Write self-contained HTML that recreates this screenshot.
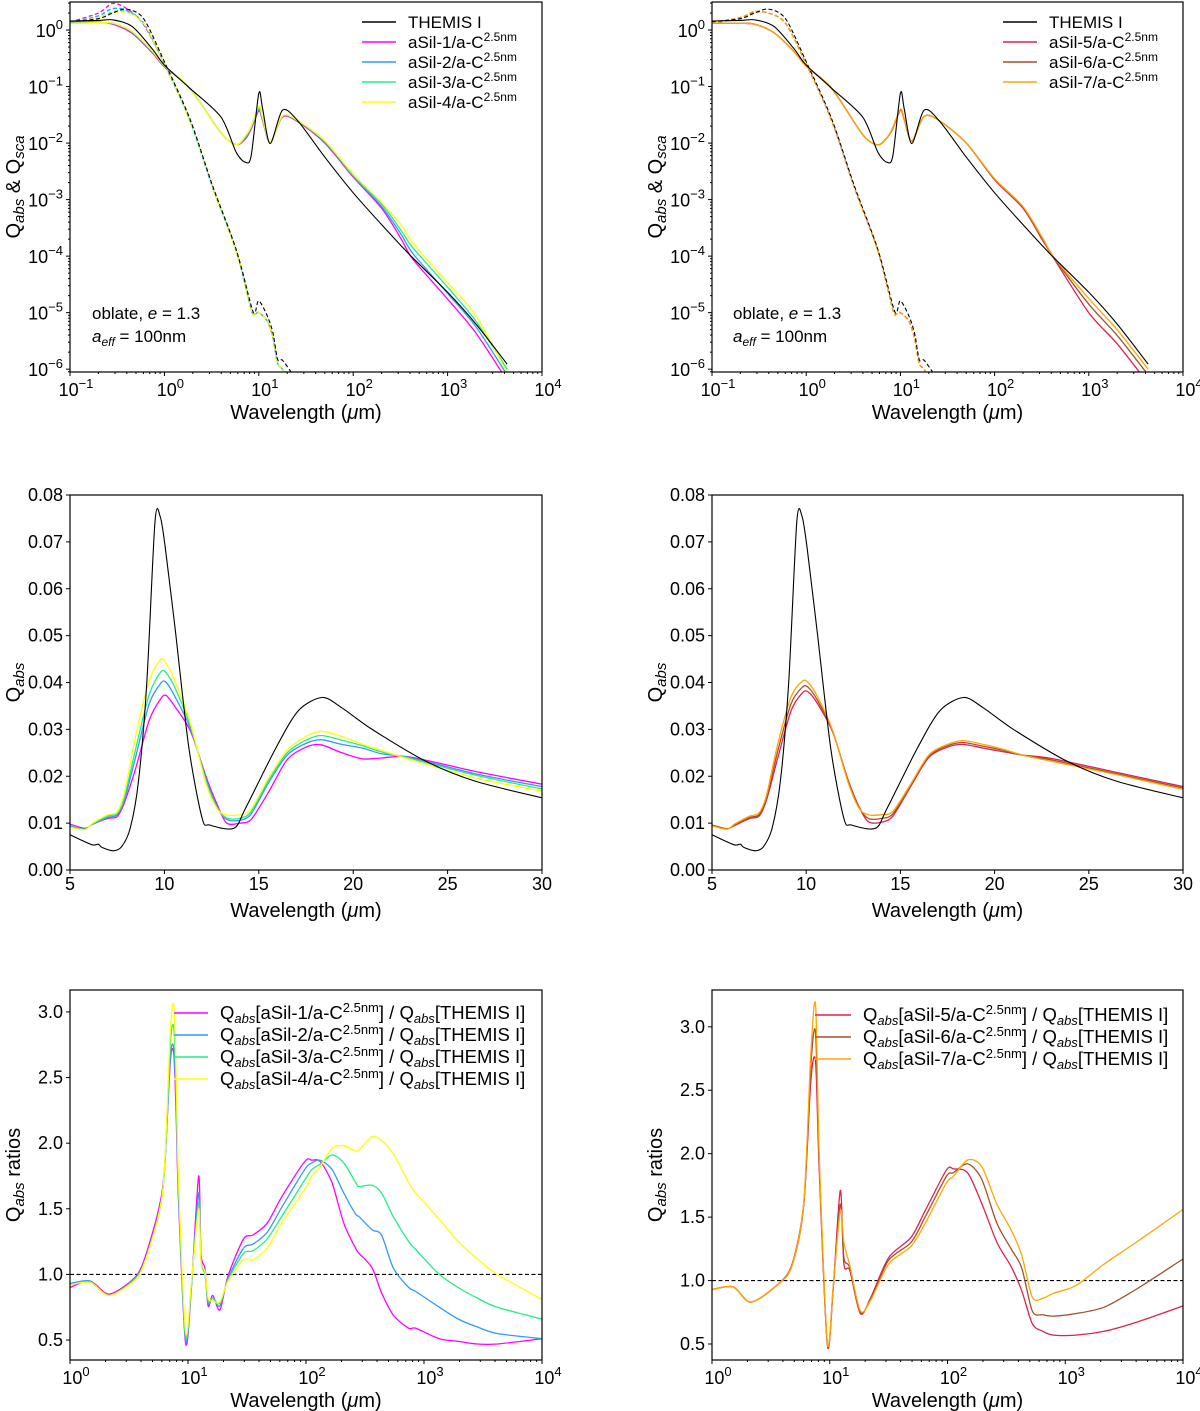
<!DOCTYPE html>
<html><head><meta charset="utf-8"><style>
html,body{margin:0;padding:0;background:#fff;}
svg{display:block;font-family:"Liberation Sans","DejaVu Sans",sans-serif;}
</style></head><body>
<svg id="fig" width="1200" height="1411" viewBox="0 0 1200 1411" xmlns="http://www.w3.org/2000/svg"></svg>
<script>
// ---------- Panel A/B (log-log, values are log10) ----------
const logWlAbs = [-1,-0.7,-0.54,-0.34,-0.13,0,0.27,0.6,0.76,0.86,0.92,1.0,1.04,1.12,1.25,1.41,1.7,2,2.3,2.51,2.63,3,3.3,3.63];
const themisAbs = [0.16,0.17,0.18,0.06,-0.33,-0.62,-1.03,-1.54,-2.16,-2.34,-2.22,-1.12,-1.39,-2.01,-1.42,-1.6,-2.25,-2.88,-3.44,-3.82,-4.03,-4.64,-5.2,-5.91];
const sil1Abs = [0.14,0.14,0.1,-0.06,-0.4,-0.65,-1.03,-1.82,-2.03,-1.92,-1.75,-1.43,-1.6,-1.99,-1.54,-1.62,-2.0,-2.6,-3.15,-3.7,-4.05,-4.76,-5.36,-6.2];
const sil2Abs = [0.13,0.13,0.11,-0.04,-0.38,-0.64,-1.03,-1.82,-2.03,-1.9,-1.73,-1.41,-1.58,-1.99,-1.53,-1.61,-1.98,-2.58,-3.12,-3.62,-3.95,-4.66,-5.25,-6.1];
const sil3Abs = [0.12,0.13,0.12,-0.03,-0.37,-0.63,-1.03,-1.82,-2.03,-1.88,-1.71,-1.38,-1.56,-1.99,-1.52,-1.6,-1.97,-2.57,-3.08,-3.55,-3.85,-4.55,-5.15,-6.0];
const sil4Abs = [0.12,0.13,0.12,-0.03,-0.37,-0.63,-1.03,-1.82,-2.03,-1.87,-1.7,-1.35,-1.55,-1.99,-1.52,-1.6,-1.96,-2.55,-3.05,-3.45,-3.76,-4.47,-5.05,-6.07];
const sil5Abs = [0.12,0.12,0.1,-0.05,-0.38,-0.64,-1.03,-1.85,-2.03,-1.9,-1.74,-1.42,-1.58,-1.97,-1.53,-1.6,-2.0,-2.65,-3.15,-3.72,-4.04,-5.0,-5.55,-6.25];
const sil6Abs = [0.12,0.12,0.1,-0.05,-0.38,-0.64,-1.03,-1.85,-2.03,-1.9,-1.73,-1.41,-1.57,-1.97,-1.53,-1.6,-2.0,-2.64,-3.13,-3.7,-4.03,-4.85,-5.4,-6.1];
const sil7Abs = [0.12,0.12,0.1,-0.05,-0.38,-0.64,-1.03,-1.85,-2.03,-1.9,-1.72,-1.4,-1.56,-1.97,-1.53,-1.6,-2.0,-2.63,-3.12,-3.68,-4.02,-4.75,-5.3,-6.0];
const logWlSca = [-1,-0.7,-0.55,-0.4,-0.22,0,0.27,0.51,0.76,0.92,0.96,1.0,1.09,1.15,1.2,1.25,1.35];
const themisSca = [0.15,0.2,0.3,0.37,0.2,-0.56,-1.57,-2.75,-3.88,-4.88,-5.0,-4.79,-5.06,-5.36,-5.83,-5.84,-6.07];
const sil1Sca = [0.14,0.3,0.47,0.38,0.1,-0.6,-1.6,-2.78,-3.9,-4.95,-5.02,-5.0,-5.15,-5.45,-5.9,-6.0,-6.3];
const sil2Sca = [0.13,0.25,0.38,0.35,0.12,-0.6,-1.6,-2.78,-3.9,-4.95,-5.02,-5.0,-5.15,-5.45,-5.9,-6.0,-6.3];
const sil3Sca = [0.13,0.22,0.32,0.33,0.12,-0.6,-1.6,-2.78,-3.9,-4.95,-5.02,-5.0,-5.15,-5.45,-5.9,-6.0,-6.3];
const sil4Sca = [0.13,0.22,0.3,0.31,0.12,-0.6,-1.6,-2.78,-3.9,-4.95,-5.02,-5.0,-5.15,-5.45,-5.9,-6.0,-6.3];
const sil5Sca = [0.12,0.22,0.32,0.3,0.12,-0.6,-1.6,-2.78,-3.9,-4.95,-5.02,-5.0,-5.15,-5.45,-5.9,-6.0,-6.3];
const sil6Sca = [0.12,0.22,0.32,0.3,0.12,-0.6,-1.6,-2.78,-3.9,-4.95,-5.02,-5.0,-5.15,-5.45,-5.9,-6.0,-6.3];
const sil7Sca = [0.12,0.22,0.33,0.3,0.12,-0.6,-1.6,-2.78,-3.9,-4.95,-5.02,-5.0,-5.15,-5.45,-5.9,-6.0,-6.3];

// ---------- Panel C/D (linear) ----------
const wlThemisLin = [5,6.15,6.5,6.7,7.3,7.74,8.19,8.63,9.07,9.5,9.78,10.04,10.58,11.3,12.0,12.4,13.68,14.3,15.9,17.1,18.36,19.4,21,23.85,26.5,30];
const themisLin = [0.0075,0.0054,0.0055,0.0048,0.0041,0.005,0.0089,0.019,0.040,0.0743,0.0754,0.0689,0.051,0.026,0.011,0.0096,0.0089,0.0132,0.026,0.034,0.0368,0.0346,0.030,0.0232,0.0189,0.0154];
const wlLin = [5,5.8,6.2,7.0,7.5,7.9,8.5,9.2,9.8,10.1,10.6,11.4,12.2,12.8,13.3,14.0,14.6,15.5,16.5,17.5,18.3,19.4,20.5,21.5,23,26.5,30];
const sil1Lin = [0.0098,0.0089,0.0098,0.011,0.0114,0.0146,0.022,0.032,0.0365,0.0372,0.0346,0.0295,0.020,0.0139,0.010,0.0100,0.0108,0.0165,0.0235,0.0262,0.0267,0.025,0.0237,0.0239,0.0241,0.021,0.0183];
const sil2Lin = [0.0094,0.0087,0.0098,0.0112,0.0118,0.0152,0.0245,0.0355,0.0398,0.0400,0.0367,0.0300,0.0195,0.0134,0.0108,0.0106,0.012,0.0185,0.0245,0.027,0.0278,0.0268,0.026,0.0248,0.024,0.0205,0.0178];
const sil3Lin = [0.0092,0.0087,0.0099,0.0115,0.0121,0.0158,0.0262,0.0375,0.0422,0.0420,0.0385,0.0305,0.019,0.0132,0.0111,0.011,0.0125,0.019,0.025,0.0277,0.0287,0.0277,0.0265,0.0252,0.0238,0.0202,0.0173];
const sil4Lin = [0.0091,0.0086,0.01,0.0118,0.0124,0.0168,0.029,0.0405,0.0449,0.0440,0.040,0.0310,0.0185,0.013,0.0118,0.0118,0.013,0.0195,0.0256,0.0285,0.0296,0.0285,0.0268,0.0255,0.0236,0.0196,0.0168];
const sil5Lin = [0.0096,0.0088,0.0095,0.011,0.0115,0.015,0.024,0.034,0.0378,0.038,0.0355,0.0295,0.0195,0.0135,0.0103,0.0102,0.0115,0.0175,0.024,0.0262,0.0268,0.026,0.0252,0.0245,0.0238,0.0208,0.0178];
const sil6Lin = [0.0095,0.0088,0.0096,0.0112,0.0118,0.0155,0.0255,0.0355,0.0390,0.039,0.0362,0.0297,0.0192,0.0134,0.011,0.011,0.012,0.0178,0.0243,0.0265,0.0272,0.0264,0.0255,0.0245,0.0235,0.0205,0.0175];
const sil7Lin = [0.0094,0.0087,0.0098,0.0115,0.0122,0.016,0.027,0.037,0.0403,0.0400,0.037,0.0298,0.019,0.0132,0.0118,0.0118,0.0125,0.018,0.0245,0.0268,0.0276,0.0268,0.0257,0.0245,0.0232,0.0203,0.0172];

// ---------- Panel E (ratios, log10 wavelength) ----------
const logWlRatioL = [0,0.17,0.33,0.53,0.62,0.75,0.8,0.85,0.88,0.9,0.92,0.98,1.03,1.09,1.11,1.145,1.17,1.21,1.27,1.34,1.47,1.55,1.67,1.8,1.99,2.05,2.12,2.22,2.32,2.42,2.45,2.56,2.64,2.74,2.87,2.93,3.13,3.29,3.45,3.62,4];
const ratio1 = [0.90,0.95,0.85,0.96,1.09,1.49,1.8,2.62,2.68,2.2,1.55,0.475,0.91,1.75,1.16,1.04,0.76,0.84,0.73,0.99,1.27,1.30,1.39,1.6,1.86,1.87,1.86,1.70,1.39,1.2,1.16,1.05,0.86,0.69,0.59,0.59,0.51,0.49,0.47,0.47,0.51];
const ratio2 = [0.93,0.95,0.84,0.95,1.07,1.45,1.78,2.65,2.72,2.3,1.6,0.50,0.92,1.62,1.12,1.0,0.78,0.82,0.76,0.97,1.20,1.23,1.32,1.52,1.80,1.85,1.87,1.80,1.62,1.46,1.44,1.34,1.30,1.05,0.9,0.87,0.75,0.66,0.6,0.55,0.51];
const ratio3 = [0.92,0.94,0.84,0.95,1.07,1.45,1.78,2.75,2.88,2.4,1.65,0.53,0.93,1.55,1.1,1.0,0.80,0.82,0.78,0.96,1.16,1.18,1.27,1.45,1.72,1.8,1.84,1.91,1.85,1.70,1.67,1.68,1.62,1.44,1.25,1.19,1.0,0.9,0.82,0.75,0.66];
const ratio4 = [0.92,0.94,0.84,0.94,1.06,1.45,1.8,2.85,3.05,2.5,1.7,0.56,0.95,1.5,1.1,1.02,0.82,0.80,0.79,0.95,1.11,1.11,1.2,1.4,1.65,1.75,1.82,1.96,1.98,1.94,1.95,2.05,2.02,1.92,1.70,1.62,1.42,1.25,1.12,1.0,0.81];

// ---------- Panel F ----------
const logWlRatioR = [0,0.18,0.33,0.56,0.68,0.78,0.84,0.88,0.91,0.98,1.03,1.09,1.12,1.17,1.26,1.35,1.5,1.69,1.81,1.99,2.05,2.17,2.29,2.42,2.54,2.63,2.72,2.81,2.9,3.09,3.33,3.6,4];
const ratio5 = [0.93,0.95,0.83,0.97,1.13,1.61,2.58,2.72,1.88,0.49,0.95,1.71,1.13,1.08,0.74,0.87,1.18,1.34,1.55,1.87,1.88,1.85,1.61,1.30,1.11,0.92,0.66,0.6,0.57,0.57,0.6,0.67,0.80];
const ratio6 = [0.93,0.95,0.83,0.97,1.12,1.6,2.7,2.95,1.95,0.5,0.95,1.6,1.18,1.1,0.75,0.86,1.16,1.3,1.5,1.82,1.85,1.92,1.8,1.45,1.25,1.1,0.76,0.73,0.72,0.74,0.79,0.93,1.17];
const ratio7 = [0.93,0.95,0.83,0.97,1.12,1.62,2.8,3.17,2.0,0.51,0.96,1.55,1.3,1.12,0.76,0.85,1.13,1.27,1.45,1.77,1.82,1.95,1.9,1.6,1.4,1.2,0.87,0.86,0.9,0.96,1.13,1.3,1.56];

const NS = "http://www.w3.org/2000/svg";
const svg = document.getElementById('fig');
function mk(tag, attrs, parent) {
  const e = document.createElementNS(NS, tag);
  for (const k in attrs) e.setAttribute(k, attrs[k]);
  (parent || svg).appendChild(e);
  return e;
}
const C = {mag:'#ff00ff', blue:'#3399ff', green:'#22ee88', yel:'#ffff00', red:'#e0204f', brown:'#a0522d', orange:'#ffa500'};
const TF = 18, TS = 13, AF = 20, AS = 15, LF = 17, LS = 12;

let clipId = 0;
function makePanel(p) {
  const g = mk('g', {});
  
  
  const sx = v => p.x0 + (v - p.xmin) / (p.xmax - p.xmin) * (p.x1 - p.x0);
  const sy = v => p.y1 - (v - p.ymin) / (p.ymax - p.ymin) * (p.y1 - p.y0);
  const id = 'clip' + (clipId++);
  const cp = mk('clipPath', {id: id}, g);
  mk('rect', {x: p.x0, y: p.y0, width: p.x1 - p.x0, height: p.y1 - p.y0}, cp);
  const plot = mk('g', {'clip-path': 'url(#' + id + ')'}, g);
  
  
  const tg = mk('g', {stroke: '#000', 'stroke-width': 1}, g);
  
  
  const lbl = mk('g', {'font-size': TF, fill: '#000'}, g);
  
  
  function logLabel(parent, x, y, exp, anchor) {
    const t = mk('text', {x: x, y: y, 'text-anchor': anchor}, parent);
    t.appendChild(document.createTextNode('10'));
    const s = mk('tspan', {'font-size': TS, dy: -8}, t);
    s.textContent = (exp < 0 ? '\u2212' : '') + Math.abs(exp);
    return t;
  }
  if (p.xlog) {
    for (let d = p.xmin; d <= p.xmax; d++) {
      const X = sx(d);
      mk('line', {x1: X, x2: X, y1: p.y1, y2: p.y1 + 4}, tg);
      logLabel(lbl, X + 6, p.y1 + 24, d, 'middle');
      if (d < p.xmax) for (let m = 2; m < 10; m++) {
        const Xm = sx(d + Math.log10(m));
        mk('line', {x1: Xm, x2: Xm, y1: p.y1, y2: p.y1 + 2}, tg);
      }
    }
  } else {
    p.xticks.forEach(v => {
      const X = sx(v);
      mk('line', {x1: X, x2: X, y1: p.y1, y2: p.y1 + 4}, tg);
      const t = mk('text', {x: X, y: p.y1 + 20, 'text-anchor': 'middle'}, lbl);
      t.textContent = v;
    });
  }
  if (p.ylog) {
    for (let d = Math.ceil(p.ymin); d <= p.ymax; d++) {
      const Y = sy(d);
      mk('line', {x1: p.x0, x2: p.x0 - 4, y1: Y, y2: Y}, tg);
      logLabel(lbl, p.x0 - 7, Y + 7, d, 'end');
    }
    for (let d = Math.floor(p.ymin); d < p.ymax; d++) for (let m = 2; m < 10; m++) {
      const v = d + Math.log10(m);
      if (v < p.ymin || v > p.ymax) continue;
      const Y = sy(v);
      mk('line', {x1: p.x0, x2: p.x0 - 2, y1: Y, y2: Y}, tg);
    }
  } else {
    p.yticks.forEach(v => {
      const Y = sy(v);
      mk('line', {x1: p.x0, x2: p.x0 - 4, y1: Y, y2: Y}, tg);
      const t = mk('text', {x: p.x0 - 7, y: Y + 6, 'text-anchor': 'end'}, lbl);
      t.textContent = v.toFixed(p.ydec);
    });
  }
  const xl = mk('text', {x: (p.x0 + p.x1) / 2, y: p.y1 + 47, 'text-anchor': 'middle', 'font-size': AF}, g);
  
  
  xl.appendChild(document.createTextNode('Wavelength ('));
  const mu = mk('tspan', {'font-style': 'italic'}, xl); mu.textContent = '\u03bc';
  xl.appendChild(document.createTextNode('m)'));
  const yl = mk('text', {transform: 'translate(' + (p.x0 - 50) + ',' + ((p.y0 + p.y1) / 2) + ') rotate(-90)', 'text-anchor': 'middle', 'font-size': AF}, g);
  
  
  p.ylabel(yl);
  const frame = mk('rect', {x: p.x0, y: p.y0, width: p.x1 - p.x0, height: p.y1 - p.y0, fill: 'none', stroke: '#000', 'stroke-width': 1.2}, g);
  
  
  return {g, plot, sx, sy};
}
function addSub(t, base, sub) {
  t.appendChild(document.createTextNode(base));
  const s = mk('tspan', {'font-size': AS, 'font-style': 'italic', dy: 4}, t); s.textContent = sub;
  const r = mk('tspan', {dy: -4}, t); r.textContent = '\u200b';
}
function line(P, xs, ys, color, name, dash, w) {
  const pts = xs.map((x, i) => [P.sx(x), P.sy(ys[i])]);
  let d = 'M' + pts[0][0].toFixed(1) + ',' + pts[0][1].toFixed(1);
  for (let i = 0; i < pts.length - 1; i++) {
    const p0 = pts[Math.max(0, i - 1)], p1 = pts[i], p2 = pts[i + 1], p3 = pts[Math.min(pts.length - 1, i + 2)];
    const k = 1 / 7;
    const c1 = [p1[0] + (p2[0] - p0[0]) * k, p1[1] + (p2[1] - p0[1]) * k];
    const c2 = [p2[0] - (p3[0] - p1[0]) * k, p2[1] - (p3[1] - p1[1]) * k];
    d += 'C' + c1[0].toFixed(1) + ',' + c1[1].toFixed(1) + ' ' + c2[0].toFixed(1) + ',' + c2[1].toFixed(1) + ' ' + p2[0].toFixed(1) + ',' + p2[1].toFixed(1);
  }
  const e = mk('path', {d: d, fill: 'none', stroke: color, 'stroke-width': w || 1.3, 'stroke-dasharray': dash || 'none', 'stroke-linejoin': 'round'}, P.plot);
  
  
  return e;
}
function straight(P, xs, ys, color, name, dash, w) {
  const e = mk('line', {x1: P.sx(xs[0]), y1: P.sy(ys[0]), x2: P.sx(xs[1]), y2: P.sy(ys[1]), stroke: color, 'stroke-width': w, 'stroke-dasharray': dash}, P.plot);
  
  
}
function legend(P, x, y, rows, dy, lineLen, textFn, fs) {
  const g = mk('g', {'font-size': fs || LF}, P.g);
  
  
  rows.forEach((r, i) => {
    const Y = y + i * dy;
    const ln = mk('line', {x1: x, x2: x + lineLen, y1: Y - 6, y2: Y - 6, stroke: r[0], 'stroke-width': 1.5}, g);
    
    
    const t = mk('text', {x: x + lineLen + 12, y: Y}, g);
    
    
    textFn(t, r[1]);
  });
}
function supLabel(t, s) {
  if (s === 'THEMIS I') { t.textContent = s; return; }
  t.appendChild(document.createTextNode(s));
  const sp = mk('tspan', {'font-size': LS, dy: -7}, t); sp.textContent = '2.5nm';
}
function ratioLabel(t, s) {
  const RS = 13;
  t.appendChild(document.createTextNode('Q'));
  const a = mk('tspan', {'font-size': RS, 'font-style': 'italic', dy: 4}, t); a.textContent = 'abs';
  const b = mk('tspan', {dy: -4}, t); b.textContent = '[' + s + '/a-C';
  const c = mk('tspan', {'font-size': RS, dy: -7}, t); c.textContent = '2.5nm';
  const d = mk('tspan', {dy: 7}, t); d.textContent = '] / Q';
  const e = mk('tspan', {'font-size': RS, 'font-style': 'italic', dy: 4}, t); e.textContent = 'abs';
  const f = mk('tspan', {dy: -4}, t); f.textContent = '[THEMIS I]';
}
function qLabel(yl) {
  addSub(yl, 'Q', 'abs'); yl.appendChild(document.createTextNode(' & ')); addSub(yl, 'Q', 'sca');
}
function annot(P, x, y) {
  const t1 = mk('text', {x: x, y: y, 'font-size': LF}, P.g);
  
  
  t1.appendChild(document.createTextNode('oblate, '));
  const e = mk('tspan', {'font-style': 'italic'}, t1); e.textContent = 'e';
  t1.appendChild(document.createTextNode(' = 1.3'));
  const t2 = mk('text', {x: x, y: y + 23, 'font-size': LF}, P.g);
  
  
  const a = mk('tspan', {'font-style': 'italic'}, t2); a.textContent = 'a';
  const s = mk('tspan', {'font-size': LS, 'font-style': 'italic', dy: 4}, t2); s.textContent = 'eff';
  const r = mk('tspan', {dy: -4}, t2); r.textContent = ' = 100nm';
}

const topY = {y0: 2, y1: 372, ymin: -6.05, ymax: 0.496, xmin: -1, xmax: 4, xlog: true, ylog: true, ylabel: qLabel};
const PA = makePanel(Object.assign({name: 'panel-qabs-qsca-left', x0: 70, x1: 542}, topY));
[[sil1Sca, C.mag], [sil2Sca, C.blue], [sil3Sca, C.green], [sil4Sca, C.yel]].forEach((s, i) => line(PA, logWlSca, s[0], s[1], 'qsca-series-' + (i + 1), '4,2.5'));
line(PA, logWlSca, themisSca, '#000', 'qsca-themis', '4,2.5', 1.1);
[[sil1Abs, C.mag], [sil2Abs, C.blue], [sil3Abs, C.green], [sil4Abs, C.yel]].forEach((s, i) => line(PA, logWlAbs, s[0], s[1], 'qabs-series-' + (i + 1)));
line(PA, logWlAbs, themisAbs, '#000', 'qabs-themis', null, 1.1);
legend(PA, 362, 28, [['#000', 'THEMIS I'], [C.mag, 'aSil-1/a-C'], [C.blue, 'aSil-2/a-C'], [C.green, 'aSil-3/a-C'], [C.yel, 'aSil-4/a-C']], 20, 34, supLabel);
annot(PA, 92, 319);

const PB = makePanel(Object.assign({name: 'panel-qabs-qsca-right', x0: 712, x1: 1183}, topY));
[[sil5Sca, C.red], [sil6Sca, C.brown], [sil7Sca, C.orange]].forEach((s, i) => line(PB, logWlSca, s[0], s[1], 'qsca-series-' + (i + 5), '4,2.5'));
line(PB, logWlSca, themisSca, '#000', 'qsca-themis', '4,2.5', 1.1);
[[sil5Abs, C.red], [sil6Abs, C.brown], [sil7Abs, C.orange]].forEach((s, i) => line(PB, logWlAbs, s[0], s[1], 'qabs-series-' + (i + 5)));
line(PB, logWlAbs, themisAbs, '#000', 'qabs-themis', null, 1.1);
legend(PB, 1003, 28, [['#000', 'THEMIS I'], [C.red, 'aSil-5/a-C'], [C.brown, 'aSil-6/a-C'], [C.orange, 'aSil-7/a-C']], 20, 34, supLabel);
annot(PB, 733, 319);

const midY = {y0: 495, y1: 870, ymin: 0, ymax: 0.08, xmin: 5, xmax: 30, xlog: false, ylog: false, xticks: [5, 10, 15, 20, 25, 30], yticks: [0, 0.01, 0.02, 0.03, 0.04, 0.05, 0.06, 0.07, 0.08], ydec: 2, ylabel: yl => addSub(yl, 'Q', 'abs')};
const PC = makePanel(Object.assign({name: 'panel-qabs-linear-left', x0: 70, x1: 542}, midY));
[[sil1Lin, C.mag], [sil2Lin, C.blue], [sil3Lin, C.green], [sil4Lin, C.yel]].forEach((s, i) => line(PC, wlLin, s[0], s[1], 'qabs-lin-series-' + (i + 1)));
line(PC, wlThemisLin, themisLin, '#000', 'qabs-lin-themis', null, 1.1);
const PD = makePanel(Object.assign({name: 'panel-qabs-linear-right', x0: 712, x1: 1183}, midY));
[[sil5Lin, C.red], [sil6Lin, C.brown], [sil7Lin, C.orange]].forEach((s, i) => line(PD, wlLin, s[0], s[1], 'qabs-lin-series-' + (i + 5)));
line(PD, wlThemisLin, themisLin, '#000', 'qabs-lin-themis', null, 1.1);

const ratLabel = yl => { addSub(yl, 'Q', 'abs'); yl.appendChild(document.createTextNode(' ratios')); };
const PE = makePanel({name: 'panel-ratio-left', x0: 70, x1: 542, y0: 990, y1: 1360, ymin: 0.348, ymax: 3.167, xmin: 0, xmax: 4, xlog: true, ylog: false, yticks: [0.5, 1, 1.5, 2, 2.5, 3], ydec: 1, ylabel: ratLabel});
straight(PE, [0, 4], [1, 1], '#000', 'unity-reference-line', '4,2.5', 1.2);
[[ratio1, C.mag], [ratio2, C.blue], [ratio3, C.green], [ratio4, C.yel]].forEach((s, i) => line(PE, logWlRatioL, s[0], s[1], 'ratio-series-' + (i + 1)));
legend(PE, 174, 1019, [[C.mag, 'aSil-1'], [C.blue, 'aSil-2'], [C.green, 'aSil-3'], [C.yel, 'aSil-4']], 22, 34, ratioLabel, 18.5);

const PF = makePanel({name: 'panel-ratio-right', x0: 712, x1: 1183, y0: 990, y1: 1360, ymin: 0.374, ymax: 3.29, xmin: 0, xmax: 4, xlog: true, ylog: false, yticks: [0.5, 1, 1.5, 2, 2.5, 3], ydec: 1, ylabel: ratLabel});
straight(PF, [0, 4], [1, 1], '#000', 'unity-reference-line', '4,2.5', 1.2);
[[ratio5, C.red], [ratio6, C.brown], [ratio7, C.orange]].forEach((s, i) => line(PF, logWlRatioR, s[0], s[1], 'ratio-series-' + (i + 5)));
legend(PF, 815, 1021, [[C.red, 'aSil-5'], [C.brown, 'aSil-6'], [C.orange, 'aSil-7']], 22, 36, ratioLabel, 18.5);
</script>
</body></html>
